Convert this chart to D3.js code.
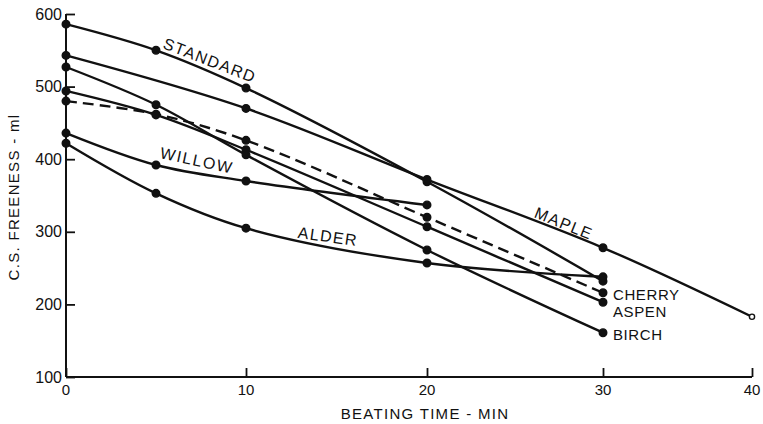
<!DOCTYPE html>
<html>
<head>
<meta charset="utf-8">
<script src="https://cdn.jsdelivr.net/npm/d3@7"></script>
<style>
  html, body { margin: 0; padding: 0; background: #fff; }
  svg { display: block; }
  text { font-family: "Liberation Sans", Arial, sans-serif; fill: #111; }
</style>
</head>
<body>
<svg id="chart" width="763" height="424"></svg>
<script>
// ---- data (beating time in min, C.S. freeness in ml) ----
const xTicks = [0, 10, 20, 30, 40];
const yTicks = [100, 200, 300, 400, 500, 600];

const standardX = [0, 5, 10, 20, 30];
const standardY = [586, 550, 498, 369, 232];

const mapleX = [0, 10, 20, 30, 40];
const mapleY = [543, 470, 372, 278, 183];

const willowX = [0, 5, 10, 20];
const willowY = [436, 392, 370, 337];

const alderX = [0, 5, 10, 20, 30];
const alderY = [422, 353, 305, 257, 238];

const cherryX = [0, 5, 10, 20, 30];
const cherryY = [480, 462, 426, 320, 216];

const aspenX = [0, 5, 10, 20, 30];
const aspenY = [494, 461, 413, 307, 203];

const birchX = [0, 5, 10, 20, 30];
const birchY = [527, 475, 406, 275, 161];

const seriesNames = ["STANDARD", "MAPLE", "WILLOW", "ALDER", "CHERRY", "ASPEN", "BIRCH"];
const seriesXs = [standardX, mapleX, willowX, alderX, cherryX, aspenX, birchX];
const seriesYs = [standardY, mapleY, willowY, alderY, cherryY, aspenY, birchY];
const seriesDashed = [false, false, false, false, true, false, false];

// ---- layout ----
const svg = d3.select("#chart");
const x = d3.scaleLinear().domain([0, 10, 20, 30, 40]).range([66, 246, 427, 603, 752]);
const y = d3.scaleLinear().domain([100, 600]).range([377, 14]);

const line = d3.line()
  .x(d => x(d[0]))
  .y(d => y(d[1]))
  .curve(d3.curveCatmullRom.alpha(0.5));

// axes
const xAxis = d3.axisTop(x).tickValues(xTicks).tickSize(9).tickFormat("");
const yAxis = d3.axisRight(y).tickValues(yTicks).tickSize(9).tickFormat("");

const gx = svg.append("g").attr("transform", `translate(0,${y(100)})`).call(xAxis);
gx.select(".domain").attr("d", `M${x(0)},0H${x(40)}`);
const gy = svg.append("g").attr("transform", `translate(${x(0)},0)`).call(yAxis);
gy.select(".domain").attr("d", `M0,${y(100)}V${y(600)}`);
svg.selectAll(".domain").attr("stroke", "#111").attr("stroke-width", 2);
svg.selectAll(".tick line").attr("stroke", "#111").attr("stroke-width", 1.8);

// tick labels
svg.append("g").selectAll("text").data(xTicks).join("text")
  .attr("x", d => x(d)).attr("y", 395)
  .attr("text-anchor", "middle")
  .attr("font-size", 15)
  .text(d => d);

svg.append("g").selectAll("text").data(yTicks).join("text")
  .attr("x", 62).attr("y", d => y(d) + 5.5)
  .attr("text-anchor", "end")
  .attr("font-size", 16)
  .text(d => d);

// axis titles
svg.append("text")
  .attr("x", 425).attr("y", 419)
  .attr("text-anchor", "middle")
  .attr("font-size", 15)
  .attr("letter-spacing", 1.3)
  .text("BEATING TIME - MIN");

svg.append("text")
  .attr("transform", "translate(19,197) rotate(-90)")
  .attr("text-anchor", "middle")
  .attr("font-size", 15)
  .attr("letter-spacing", 1.3)
  .text("C.S. FREENESS - ml");

// series lines and points
seriesNames.forEach((name, i) => {
  const pts = seriesXs[i].map((t, j) => [t, seriesYs[i][j]]);
  svg.append("path")
    .datum(pts)
    .attr("d", line)
    .attr("fill", "none")
    .attr("stroke", "#111")
    .attr("stroke-width", 2.4)
    .attr("stroke-dasharray", seriesDashed[i] ? "11,6" : null);
  svg.append("g").selectAll("circle").data(pts).join("circle")
    .attr("cx", d => x(d[0]))
    .attr("cy", d => y(d[1]))
    .attr("r", d => d[0] === 40 ? 2.6 : 3.8)
    .attr("fill", d => d[0] === 40 ? "#fff" : "#111")
    .attr("stroke", "#111")
    .attr("stroke-width", 1.4);
});

// in-plot labels along curves
const curveLabels = [
  { text: "STANDARD", cx: 210, cy: 60, angle: 21, ls: 1.4 },
  { text: "WILLOW", cx: 197, cy: 160, angle: 12, ls: 1.6 },
  { text: "ALDER", cx: 328, cy: 236, angle: 8, ls: 1.4 },
  { text: "MAPLE", cx: 564, cy: 223, angle: 22, ls: 1.4 }
];
curveLabels.forEach(l => {
  svg.append("text")
    .attr("transform", `translate(${l.cx},${l.cy}) rotate(${l.angle})`)
    .attr("y", 6)
    .attr("text-anchor", "middle")
    .attr("font-size", 16)
    .attr("letter-spacing", l.ls)
    .text(l.text);
});

// end labels at 30 min
const endLabels = ["CHERRY", "ASPEN", "BIRCH"];
const endBaselines = [300, 317, 340];
endLabels.forEach((label, k) => {
  svg.append("text")
    .attr("x", x(30) + 10)
    .attr("y", endBaselines[k])
    .attr("font-size", 15)
    .attr("letter-spacing", 0.6)
    .text(label);
});
</script>
</body>
</html>
